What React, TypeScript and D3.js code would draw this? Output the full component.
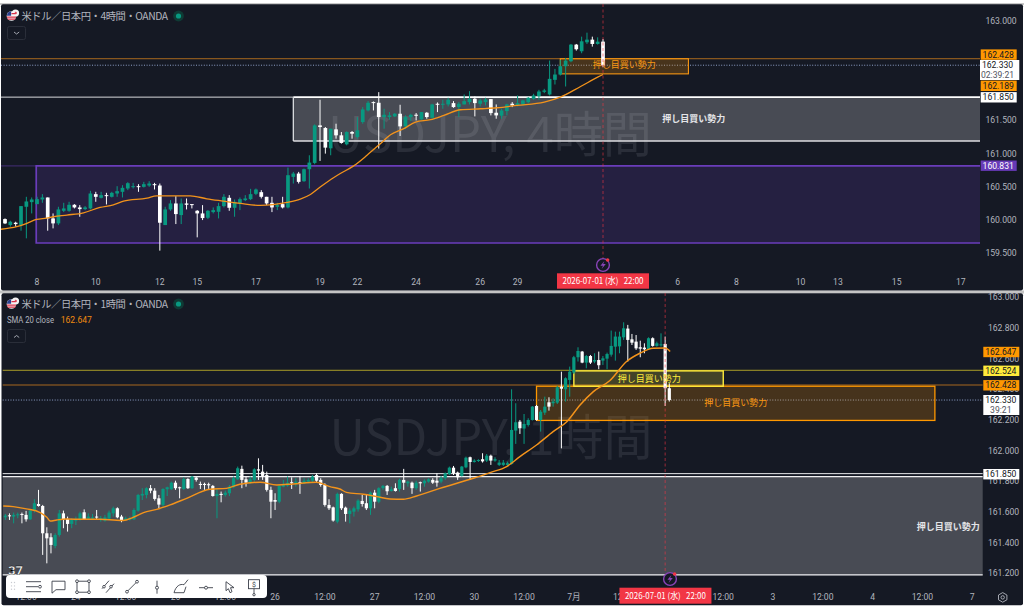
import React from "react";
import * as d3 from "d3";

type Candle = [number, number, number, number];

const candles4h: Candle[] = [
[160.015,160.025,159.94,159.95],[159.925,159.99,159.90,159.975],[159.96,159.975,159.90,159.94],[159.925,160.21,159.84,160.21],[160.20,160.35,159.725,160.28],[160.27,160.34,160.10,160.31],[160.24,160.35,160.24,160.315],[160.31,160.39,160.26,160.34],[160.34,160.34,159.84,160.025],[160.025,160.10,159.875,159.95],
[159.95,160.20,159.925,160.16],[160.14,160.26,160.12,160.175],[160.14,160.275,160.125,160.23],[160.23,160.24,160.175,160.19],[160.19,160.225,160.05,160.165],[160.165,160.21,160.15,160.19],[160.175,160.44,160.16,160.40],[160.39,160.425,160.275,160.35],[160.335,160.425,160.325,160.375],[160.375,160.41,160.235,160.365],
[160.35,160.425,160.34,160.41],[160.40,160.51,160.35,160.435],[160.425,160.525,160.34,160.485],[160.475,160.57,160.45,160.555],[160.50,160.56,160.475,160.51],[160.51,160.54,160.425,160.50],[160.50,160.575,160.49,160.54],[160.52,160.585,160.50,160.55],[160.54,160.56,160.46,160.53],[160.52,160.55,159.54,159.96],
[159.925,160.20,159.925,160.16],[160.16,160.30,160.14,160.25],[160.25,160.36,159.94,160.09],[160.075,160.325,159.94,160.25],[160.25,160.325,160.16,160.23],[160.24,160.24,160.175,160.225],[160.14,160.15,159.74,160.10],[160.10,160.225,160.00,160.03],[160.035,160.15,160.015,160.14],[160.12,160.19,160.10,160.15],
[160.125,160.26,160.025,160.21],[160.21,160.39,160.19,160.35],[160.335,160.375,160.14,160.185],[160.185,160.31,160.05,160.275],[160.25,160.34,160.15,160.315],[160.30,160.375,160.285,160.325],[160.315,160.47,160.30,160.39],[160.395,160.475,160.375,160.46],[160.42,160.45,160.325,160.35],[160.35,160.35,160.225,160.25],
[160.26,160.35,160.12,160.19],[160.20,160.26,160.15,160.225],[160.24,160.35,160.175,160.19],[160.19,160.79,160.175,160.675],[160.65,160.725,160.55,160.70],[160.70,160.725,160.55,160.575],[160.585,160.775,160.575,160.765],[160.765,160.975,160.475,160.865],[160.86,161.44,160.84,161.425],[161.425,161.81,160.89,161.40],
[161.385,161.40,161.00,161.09],[161.08,161.375,160.975,161.375],[161.365,161.45,161.225,161.275],[161.275,161.325,161.15,161.16],[161.14,161.335,161.125,161.325],[161.325,161.34,161.225,161.30],[161.25,161.55,161.225,161.35],[161.475,161.70,161.45,161.665],[161.65,161.79,161.635,161.765],[161.775,161.785,161.65,161.765],
[161.765,161.925,161.075,161.55],[161.55,161.675,161.375,161.585],[161.55,161.625,161.51,161.575],[161.56,161.61,161.55,161.60],[161.60,161.735,161.265,161.41],[161.41,161.575,161.375,161.55],[161.55,161.60,161.49,161.585],[161.585,161.61,161.50,161.57],[161.515,161.625,161.51,161.625],[161.615,161.625,161.525,161.55],
[161.54,161.75,161.53,161.74],[161.75,161.77,161.625,161.74],[161.74,161.81,161.675,161.75],[161.74,161.84,161.71,161.81],[161.76,161.79,161.69,161.70],[161.70,161.775,161.55,161.75],[161.74,161.89,161.74,161.79],[161.775,161.94,161.74,161.825],[161.825,161.86,161.56,161.76],[161.75,161.825,161.71,161.80],
[161.775,161.84,161.725,161.815],[161.82,161.82,161.575,161.61],[161.615,161.74,161.525,161.575],[161.57,161.675,161.525,161.65],[161.64,161.75,161.575,161.74],[161.75,161.775,161.70,161.725],[161.73,161.875,161.71,161.76],[161.74,161.81,161.725,161.80],[161.775,161.85,161.76,161.84],[161.825,161.90,161.81,161.875],
[161.865,161.96,161.81,161.935],[161.93,161.975,161.91,161.95],[161.89,162.40,161.875,162.125],[162.11,162.275,162.04,162.19],[162.19,162.41,162.175,162.315],[162.315,162.44,162.01,162.40],[162.39,162.65,162.375,162.64],[162.64,162.65,162.55,162.57],[162.54,162.76,162.51,162.69],[162.675,162.82,162.65,162.715],
[162.715,162.76,162.61,162.65],[162.65,162.75,162.64,162.685],[162.685,162.725,162.30,162.33],
];

const sma4h: [number, number][] = [
[-0.94,159.86],[2.2,159.90],[4.1,159.95],[5.9,160.01],[7.8,160.03],[9.1,160.05],[11.6,160.075],[14.7,160.11],[17.8,160.19],[20.3,160.23],[22.2,160.285],[26.6,160.33],[28.4,160.365],[34.7,160.365],[37.8,160.32],[40.9,160.285],[44.1,160.25],[47.8,160.22],[52.8,160.265],[55.3,160.315],[57.2,160.385],[59.1,160.50],[61.6,160.64],[62.8,160.70],[65.3,160.815],[67.8,160.975],[70.3,161.15],[72.2,161.285],[74.7,161.375],[76.9,161.475],[79.7,161.51],[82.2,161.575],[85.3,161.66],[89.1,161.675],[92.2,161.69],[95.9,161.725],[101,161.775],[104,161.85],[107.8,162.01],[111,162.15],[112,162.19],
];

const candles1h: Candle[] = [
[161.565,161.587,161.548,161.576],[161.578,161.591,161.548,161.572],[161.570,161.596,161.526,161.581],[161.578,161.596,161.559,161.585],[161.587,161.596,161.526,161.581],[161.581,161.607,161.537,161.552],[161.552,161.613,161.548,161.609],[161.607,161.683,161.596,161.657],[161.652,161.744,161.635,161.639],[161.639,161.646,161.320,161.461],
[161.461,161.500,161.265,161.428],[161.435,161.461,161.330,161.385],[161.378,161.461,161.363,161.450],[161.450,161.613,161.439,161.591],[161.591,161.609,161.494,161.552],[161.554,161.570,161.472,161.522],[161.522,161.559,161.494,161.548],[161.544,161.570,161.515,161.554],[161.548,161.602,161.544,161.591],[161.598,161.617,161.548,161.554],
[161.557,161.591,161.548,161.570],[161.557,161.587,161.548,161.565],[161.570,161.613,161.552,161.565],[161.548,161.574,161.537,161.559],[161.544,161.581,161.537,161.565],[161.557,161.609,161.548,161.596],[161.591,161.635,161.570,161.624],[161.624,161.630,161.559,161.565],[161.570,161.581,161.533,161.544],[161.548,161.570,161.544,161.559],
[161.550,161.570,161.544,161.561],[161.552,161.624,161.548,161.613],[161.609,161.718,161.602,161.711],[161.707,161.755,161.678,161.718],[161.711,161.761,161.689,161.755],[161.755,161.776,161.722,161.739],[161.739,161.755,161.674,161.685],[161.689,161.711,161.624,161.648],[161.646,161.755,161.635,161.750],[161.748,161.765,161.704,161.761],
[161.748,161.798,161.744,161.791],[161.791,161.804,161.744,161.755],[161.761,161.765,161.689,161.755],[161.750,161.826,161.744,161.815],[161.815,161.820,161.750,161.755],[161.755,161.835,161.750,161.831],[161.824,161.831,161.798,161.809],[161.783,161.798,161.750,161.776],[161.783,161.791,161.744,161.776],[161.781,161.791,161.750,161.774],
[161.770,161.776,161.700,161.704],[161.704,161.755,161.559,161.718],[161.718,161.733,161.663,161.711],[161.711,161.739,161.700,161.726],[161.722,161.776,161.704,161.765],[161.761,161.831,161.755,161.820],[161.813,161.896,161.809,161.885],[161.881,161.902,161.755,161.809],[161.813,161.831,161.765,161.791],[161.791,161.831,161.783,161.813],
[161.809,161.885,161.798,161.878],[161.878,161.950,161.809,161.870],[161.863,161.907,161.809,161.835],[161.841,161.863,161.733,161.744],[161.744,161.765,161.559,161.667],[161.678,161.722,161.613,161.667],[161.667,161.776,161.657,161.770],[161.765,161.809,161.761,161.781],[161.772,161.831,161.765,161.791],[161.794,161.826,161.750,161.787],
[161.787,161.820,161.765,161.798],[161.794,161.835,161.718,161.783],[161.787,161.820,161.783,161.804],[161.798,161.820,161.787,161.809],[161.804,161.841,161.791,161.831],[161.841,161.852,161.791,161.804],[161.809,161.820,161.765,161.776],[161.776,161.787,161.635,161.646],[161.646,161.683,161.613,161.624],[161.630,161.635,161.537,161.544],
[161.537,161.726,161.526,161.718],[161.718,161.722,161.613,161.624],[161.628,161.635,161.537,161.587],[161.587,161.624,161.526,161.609],[161.602,161.635,161.570,161.624],[161.617,161.683,161.602,161.674],[161.672,161.711,161.635,161.652],[161.657,161.711,161.613,161.624],[161.624,161.733,161.581,161.726],[161.726,161.744,161.624,161.667],
[161.667,161.761,161.657,161.755],[161.755,161.776,161.744,161.770],[161.770,161.776,161.711,161.735],[161.737,161.765,161.733,161.748],[161.755,161.787,161.733,161.737],[161.750,161.817,161.733,161.809],[161.809,161.881,161.744,161.791],[161.787,161.804,161.765,161.798],[161.791,161.798,161.718,161.755],[161.755,161.804,161.744,161.791],
[161.794,161.798,161.733,161.787],[161.787,161.813,161.765,161.804],[161.798,161.820,161.791,161.813],[161.809,161.820,161.783,161.791],[161.804,161.852,161.765,161.791],[161.798,161.835,161.787,161.820],[161.820,161.857,161.809,161.852],[161.848,161.896,161.841,161.889],[161.889,161.900,161.841,161.852],[161.857,161.863,161.809,161.826],
[161.835,161.900,161.831,161.896],[161.891,161.961,161.885,161.954],[161.957,161.961,161.809,161.926],[161.926,161.944,161.922,161.935],[161.933,161.944,161.926,161.939],[161.944,161.983,161.922,161.930],[161.935,161.978,161.926,161.967],[161.967,161.974,161.907,161.935],[161.935,161.957,161.928,161.944],[161.907,161.939,161.900,161.922],
[161.907,161.939,161.900,161.922],[161.907,161.928,161.900,161.918],[161.913,162.400,161.909,162.135],[162.131,162.309,162.044,162.185],[162.189,162.200,162.109,162.146],[162.144,162.239,162.044,162.174],[162.167,162.211,162.157,162.200],[162.200,162.291,162.196,162.287],[162.291,162.298,162.196,162.200],[162.200,162.265,162.124,162.254],
[162.248,162.352,162.233,162.287],[162.315,162.348,162.261,162.287],[162.309,162.341,162.287,162.320],[162.313,162.422,162.304,162.413],[162.417,162.515,162.015,162.404],[162.400,162.478,162.320,162.472],[162.461,162.548,162.352,162.515],[162.509,162.618,162.500,162.609],[162.609,162.674,162.581,162.650],[162.646,162.650,162.570,162.574],
[162.574,162.624,162.537,162.617],[162.617,162.624,162.565,162.574],[162.581,162.635,162.570,162.591],[162.591,162.646,162.531,162.557],[162.587,162.617,162.559,162.602],[162.600,162.639,162.531,162.630],[162.626,162.783,162.613,162.683],[162.678,162.776,162.587,162.744],[162.680,162.776,162.635,162.744],[162.739,162.837,162.722,162.798],
[162.796,162.820,162.581,162.722],[162.726,162.761,162.689,162.704],[162.711,162.754,162.657,162.667],[162.674,162.717,162.609,162.665],[162.672,162.700,162.635,162.661],[162.661,162.739,162.657,162.733],[162.733,162.739,162.678,162.683],[162.683,162.711,162.678,162.700],[162.687,162.765,162.678,162.693],[162.696,162.744,162.291,162.407],
[162.407,162.439,162.320,162.330],
];

const sma1h: [number, number][] = [
[-0.5,161.639],[1.9,161.635],[5.1,161.620],[8.4,161.596],[10,161.565],[10.8,161.541],[12.4,161.548],[14.8,161.554],[18.8,161.552],[22.8,161.552],[26,161.548],[28.4,161.544],[30.8,161.565],[33.3,161.596],[36.5,161.617],[39.7,161.646],[43.7,161.689],[49.3,161.748],[53.3,161.754],[56.5,161.781],[61.4,161.794],[65.4,161.776],[69.4,161.783],[75,161.794],[78.2,161.765],[80.6,161.750],[82.2,161.728],[86.3,161.715],[89.5,161.700],[92.7,161.685],[95.9,161.683],[99.1,161.704],[104.7,161.754],[112.8,161.820],[116.8,161.857],[120.8,161.896],[124,161.961],[128,162.037],[132,162.124],[135.3,162.189],[138.5,162.298],[141.7,162.385],[145.7,162.457],[149.7,162.581],[152.9,162.635],[156.1,162.668],[159,162.670],[160.2,162.647],
];

const ticks4h: [number, string][] = [[6,"8"],[17,"10"],[29,"12"],[36,"15"],[47,"17"],[59,"19"],[66,"22"],[77,"24"],[89,"26"],[96,"29"],[126,"6"],[137,"8"],[149,"10"],[156,"13"],[167,"15"],[179,"17"]];
const ticks1h: [number, string][] = [[5,"12:00"],[17,"24"],[29,"12:00"],[41,"25"],[53,"12:00"],[65,"26"],[77,"12:00"],[89,"27"],[101,"12:00"],[113,"30"],[125,"12:00"],[137,"7月"],[149,"12:00"],[173,"12:00"],[185,"3"],[197,"12:00"],[209,"4"],[221,"12:00"],[233,"7"]];
const prices4h = [163, 161.5, 161, 160.5, 160, 159.5];
const prices1h = [163, 162.8, 162.6, 162.4, 162.2, 162, 161.8, 161.6, 161.4, 161.2];
const ZONE_LABEL = "押し目買い勢力";
const DATE_LABEL = "2026-07-01 (水)   22:00";

const UI = "Roboto, 'Noto Sans CJK JP', sans-serif";
const JP = "'Noto Sans CJK JP', Roboto, sans-serif";
const BG = "#151924";
const GREEN = "#089981";
const ORANGE = "#ff9800";
const YELLOW = "#ffeb3b";
const PURPLE = "#673ab7";
const AXIS = "#b2b5be";
const RED = "#f23645";

const x4 = d3.scaleLinear().domain([0, 112]).range([5, 603]);
const y4 = d3.scaleLinear().domain([163, 159.5]).range([20.7, 253.3]);
const x1 = d3.scaleLinear().domain([0, 160]).range([5.33, 669.3]);
const y1 = d3.scaleLinear().domain([163, 161.2]).range([297.3, 573.3]);

type Scale = d3.ScaleLinear<number, number>;

function Candles({ data, x, y, w }: { data: Candle[]; x: Scale; y: Scale; w: number }) {
  return (
    <g>
      {data.map(([o, h, l, c], i) => {
        const col = c >= o ? GREEN : "#ffffff";
        const top = y(Math.max(o, c));
        const bh = Math.max(1, y(Math.min(o, c)) - top);
        return (
          <g key={i}>
            <line x1={x(i)} x2={x(i)} y1={y(h)} y2={y(l)} stroke={col} strokeWidth={1} />
            <rect x={x(i) - w / 2} y={top} width={w} height={bh} fill={col} />
          </g>
        );
      })}
    </g>
  );
}

function Sma({ data, x, y, width, clip }: { data: [number, number][]; x: Scale; y: Scale; width: number; clip: string }) {
  const d = d3.line<[number, number]>().x((p) => x(p[0])).y((p) => y(p[1])).curve(d3.curveMonotoneX)(data) || "";
  return <path d={d} fill="none" stroke="#f3931b" strokeWidth={width} clipPath={clip} />;
}

function Tag({ cy, h = 10.4, x, w, bg, fg, label, sub }: { cy: number; h?: number; x: number; w: number; bg: string; fg: string; label: string; sub?: string }) {
  return (
    <g fontFamily={UI} fontSize={8.6} textAnchor="middle">
      <rect x={x} y={cy - h / 2} width={w} height={h} fill={bg} />
      <text x={x + 17.5} y={cy - (sub ? 4.8 : 0)} dy="0.35em" fill={fg}>{label}</text>
      {sub && <text x={x + 17.5} y={cy + 4.8} dy="0.35em" fill="#50535e">{sub}</text>}
    </g>
  );
}

function Flag({ cx, cy }: { cx: number; cy: number }) {
  return (
    <g>
      <circle cx={cx + 4} cy={cy - 3} r={3.6} fill="#f4f4f4" />
      <circle cx={cx + 4} cy={cy - 3} r={1.3} fill="#e0354b" />
      <circle cx={cx} cy={cy} r={4.8} fill="#f6f6f6" />
      <path d={`M${cx - 4.6} ${cy + 1.2}h9.2M${cx - 3.8} ${cy + 3.2}h7.6M${cx} ${cy - 2.4}h4.4`} stroke="#d9324a" strokeWidth={1.3} />
      <path d={`M${cx - 4.6} ${cy - 0.2}A4.8 4.8 0 0 1 ${cx - 0.4} ${cy - 4.7}V${cy - 0.2}Z`} fill="#2a3f8f" />
    </g>
  );
}

function Header({ y, tf }: { y: number; tf: string }) {
  return (
    <g>
      <Flag cx={11.5} cy={y} />
      <text x={21.5} y={y} dy="0.36em" fontFamily={JP} fontSize={10.3} fill={AXIS} textLength={146.5} lengthAdjust="spacing">{`米ドル／日本円・${tf}・OANDA`}</text>
      <circle cx={178.5} cy={y} r={5.4} fill="#0f3b35" />
      <circle cx={178.5} cy={y} r={2.6} fill="#089981" />
    </g>
  );
}

function Bolt({ cx, cy }: { cx: number; cy: number }) {
  return (
    <g>
      <circle cx={cx} cy={cy} r={6.4} fill={BG} stroke="#8a44b8" strokeWidth={1.4} />
      <path d={`M${cx + 1.4} ${cy - 4}L${cx - 2.6} ${cy + 0.8}H${cx}L${cx - 1.4} ${cy + 4}L${cx + 2.8} ${cy - 1}H${cx + 0.2}Z`} fill="#8a44b8" />
      <circle cx={cx + 4.6} cy={cy - 5} r={1.8} fill="#f23645" />
    </g>
  );
}

function Toolbar() {
  const cy = 586.7;
  const s = { fill: "none", stroke: "#3b3f4a", strokeWidth: 0.9 } as const;
  return (
    <g>
      <rect x={6} y={575} width={261} height={23} rx={4} fill="#ffffff" />
      {[0, 1, 2].map((r) => [0, 1].map((c) => <circle key={`${r}${c}`} cx={11.5 + c * 3} cy={582.5 + r * 3.4} r={0.7} fill="#c9cbd1" />))}
      <path d={`M26 ${cy - 5}H41M26 ${cy}H38M26 ${cy + 5}H41`} {...s} />
      <circle cx={40} cy={cy} r={1.4} {...s} />
      <path d={`M52 ${cy - 5.5}H65V${cy + 3}H56L52 ${cy + 6.5}Z`} {...s} />
      <rect x={77} y={cy - 5.5} width={12} height={11} {...s} />
      {[[77, -5.5], [89, -5.5], [77, 5.5], [89, 5.5]].map(([a, b], i) => <circle key={i} cx={a} cy={cy + b} r={1.4} fill="#fff" stroke="#3b3f4a" strokeWidth={0.9} />)}
      <path d={`M102 ${cy + 2}L109 ${cy - 6}M106 ${cy + 6}L114 ${cy - 3}`} {...s} />
      <circle cx={104} cy={cy} r={1.3} fill="#fff" stroke="#3b3f4a" strokeWidth={0.9} />
      <circle cx={111} cy={cy} r={1.3} fill="#fff" stroke="#3b3f4a" strokeWidth={0.9} />
      <path d={`M127 ${cy + 5}L137 ${cy - 5}`} {...s} />
      <circle cx={127} cy={cy + 5} r={1.4} fill="#fff" stroke="#3b3f4a" strokeWidth={0.9} />
      <circle cx={137} cy={cy - 5} r={1.4} fill="#fff" stroke="#3b3f4a" strokeWidth={0.9} />
      <path d={`M157 ${cy - 6}V${cy + 7}`} {...s} />
      <circle cx={157} cy={cy + 1} r={1.5} fill="#fff" stroke="#3b3f4a" strokeWidth={0.9} />
      <path d={`M174 ${cy + 6}C176 ${cy - 1} 180 ${cy - 3} 184 ${cy - 2}L188 ${cy - 7}M174 ${cy + 6}H184L186 ${cy}`} {...s} />
      <path d={`M199 ${cy + 1}H213`} {...s} />
      <circle cx={206} cy={cy + 1} r={1.5} fill="#fff" stroke="#3b3f4a" strokeWidth={0.9} />
      <path d={`M226 ${cy - 5}L234 ${cy + 1}H230.5L232 ${cy + 5}L230 ${cy + 6}L228.4 ${cy + 2}L226 ${cy + 4}Z`} {...s} />
      <rect x={248.5} y={cy - 7} width={11} height={9} {...s} />
      <text x={254} y={cy - 2.4} dy="0.35em" textAnchor="middle" fontSize={7} fontFamily={UI} fill="#3b3f4a">$</text>
      <path d={`M254 ${cy + 2}V${cy + 8}`} {...s} />
      <circle cx={254} cy={cy + 8} r={1.2} fill="#fff" stroke="#3b3f4a" strokeWidth={0.9} />
    </g>
  );
}

export default function App() {
  const plotR4 = 980;
  const plotR1 = 982.7;
  return (
    <svg width={1024} height={608} style={{ position: "fixed", left: 0, top: 0, background: "#fff" }}>
      <defs>
        <clipPath id="pane4"><rect x={1} y={4} width={plotR4 - 1} height={286} /></clipPath>
        <clipPath id="pane1"><rect x={2.7} y={293} width={plotR1 - 2.7} height={312} /></clipPath>
      </defs>
      <rect x={0} y={0} width={1024} height={608} fill="#ffffff" />
      <rect x={0} y={3} width={1024} height={2} fill="#c9c9c9" />
      <rect x={0} y={290.5} width={1024} height={3} fill="#c4c4c4" />
      <rect x={1} y={4.3} width={1022} height={286.3} rx={2} fill={BG} />
      <rect x={1.5} y={293.3} width={1021.5} height={311.9} rx={2} fill={BG} />

      {/* Top pane */}
      <text x={490} y={135} dy="0.35em" textAnchor="middle" fontFamily={JP} fontSize={49} fill="#2a2e39" textLength={324} lengthAdjust="spacingAndGlyphs">USDJPY, 4時間</text>
      <rect x={1} y={y4(162.428) - 0.5} width={plotR4 - 1} height={1} fill="#a8681e" />
      <line x1={1} x2={plotR4} y1={y4(162.33)} y2={y4(162.33)} stroke="#8ea0c8" strokeWidth={1} strokeDasharray="1 1.6" />
      <line x1={1} x2={x4(54)} y1={y4(161.85)} y2={y4(161.85)} stroke="#d8d9dc" strokeWidth={1} />
      <rect x={x4(54)} y={y4(161.85)} width={plotR4 - x4(54)} height={y4(161.19) - y4(161.85)} fill="rgba(255,255,255,0.22)" />
      <line x1={x4(54)} x2={plotR4} y1={y4(161.85)} y2={y4(161.85)} stroke="#ffffff" strokeWidth={1.8} />
      <line x1={x4(54)} x2={plotR4} y1={y4(161.19)} y2={y4(161.19)} stroke="#dcdde0" strokeWidth={1.3} />
      <line x1={x4(54)} x2={x4(54)} y1={y4(161.85)} y2={y4(161.19)} stroke="#dcdde0" strokeWidth={1.3} />
      <line x1={1} x2={x4(5.85)} y1={y4(160.815)} y2={y4(160.815)} stroke="#59389c" strokeWidth={0.7} />
      <rect x={x4(5.85)} y={y4(160.815)} width={plotR4 - x4(5.85)} height={y4(159.655) - y4(160.815)} fill="rgba(103,58,183,0.2)" />
      <path d={`M${plotR4} ${y4(160.815)}H${x4(5.85)}V${y4(159.655)}H${plotR4}`} fill="none" stroke="#6a3dbb" strokeWidth={1.7} />

      <rect x={x4(104)} y={y4(162.428)} width={x4(128) - x4(104)} height={y4(162.2) - y4(162.428)} fill="rgba(255,152,0,0.22)" stroke="#f79612" strokeWidth={1.1} />
      <Candles data={candles4h} x={x4} y={y4} w={3.7} />
      <Sma data={sma4h} x={x4} y={y4} width={1.3} clip="url(#pane4)" />
      <text x={x4(116)} y={y4(162.33)} dy="0.36em" textAnchor="middle" fontFamily={JP} fontSize={9} fill="#f79612">{ZONE_LABEL}</text>
      <text x={x4(129)} y={y4(161.53)} dy="0.36em" textAnchor="middle" fontFamily={JP} fontSize={9} fontWeight={700} fill="#e4e5e8">{ZONE_LABEL}</text>

      <line x1={x4(112)} x2={x4(112)} y1={4} y2={258} stroke={RED} strokeWidth={0.8} strokeDasharray="3 2.5" opacity={0.75} />
      <Bolt cx={x4(112)} cy={265} />

      <Header y={16} tf="4時間" />
      <rect x={7.5} y={26.5} width={18} height={13} rx={2} fill="none" stroke="#2a2e39" />
      <path d="M14 32l2.6 2 2.6-2" fill="none" stroke={AXIS} strokeWidth={0.9} />

      <g fontFamily={UI} fontSize={8.6} fill={AXIS} textAnchor="middle">
        {ticks4h.map(([i, t], k) => <text key={k} x={x4(i)} y={282} dy="0.35em">{t}</text>)}
      </g>
      <g fontFamily={UI} fontSize={8.6} fill={AXIS} textAnchor="middle">
        {prices4h.map((p) => <text key={p} x={1001} y={y4(p)} dy="0.35em">{p.toFixed(3)}</text>)}
      </g>
      <Tag x={980.7} w={36} cy={54.6} bg={ORANGE} fg="#131722" label="162.428" />
      <Tag x={980} w={39.3} cy={70} h={20} bg="#ffffff" fg="#131722" label="162.330" sub="02:39:21" />
      <Tag x={980.7} w={36} cy={85.8} bg={ORANGE} fg="#131722" label="162.189" />
      <Tag x={980.7} w={36} cy={97.3} bg="#ffffff" fg="#131722" label="161.850" />
      <Tag x={980.7} w={36} cy={165.7} bg={PURPLE} fg="#ffffff" label="160.831" />
      <rect x={x4(112) - 46} y={273.3} width={92} height={15.4} fill={RED} />
      <text x={x4(112)} y={281} dy="0.36em" textAnchor="middle" fontFamily={JP} fontSize={8.6} fill="#fff" textLength={81} lengthAdjust="spacingAndGlyphs" style={{ whiteSpace: "pre" }}>{DATE_LABEL}</text>

      {/* Bottom pane */}
      <text x={491} y={438} dy="0.35em" textAnchor="middle" fontFamily={JP} fontSize={49} fill="#282c37" textLength={323} lengthAdjust="spacingAndGlyphs">USDJPY, 1時間</text>
      <line x1={2.7} x2={plotR1} y1={y1(162.524)} y2={y1(162.524)} stroke="#a99c28" strokeWidth={1} />
      <line x1={2.7} x2={plotR1} y1={y1(162.428)} y2={y1(162.428)} stroke="#a8681e" strokeWidth={1} />
      <line x1={2.7} x2={plotR1} y1={y1(162.33)} y2={y1(162.33)} stroke="#8ea0c8" strokeWidth={1} strokeDasharray="1 1.6" />
      <line x1={2.7} x2={plotR1} y1={y1(161.85)} y2={y1(161.85)} stroke="#e6e7ea" strokeWidth={1} />
      <rect x={2.7} y={y1(161.83)} width={plotR1 - 2.7} height={y1(161.19) - y1(161.83)} fill="rgba(255,255,255,0.22)" />
      <line x1={2.7} x2={plotR1} y1={y1(161.83)} y2={y1(161.83)} stroke="#f2f2f4" strokeWidth={1.2} />
      <line x1={2.7} x2={plotR1} y1={y1(161.19)} y2={y1(161.19)} stroke="#f2f2f4" strokeWidth={1.3} />

      <rect x={x1(128)} y={y1(162.42)} width={x1(224) - x1(128)} height={y1(162.197) - y1(162.42)} fill="rgba(255,152,0,0.21)" stroke={ORANGE} strokeWidth={1.3} />
      <rect x={x1(137)} y={y1(162.52)} width={x1(173) - x1(137)} height={y1(162.42) - y1(162.52)} fill="rgba(255,235,59,0.2)" stroke={YELLOW} strokeWidth={1.4} />
      <Candles data={candles1h} x={x1} y={y1} w={3.2} />
      <Sma data={sma1h} x={x1} y={y1} width={1.45} clip="url(#pane1)" />
      <text x={x1(155.2)} y={y1(162.47)} dy="0.36em" textAnchor="middle" fontFamily={JP} fontSize={9} fill={YELLOW}>{ZONE_LABEL}</text>
      <text x={x1(176)} y={y1(162.31)} dy="0.36em" textAnchor="middle" fontFamily={JP} fontSize={9} fill="#f79612">{ZONE_LABEL}</text>
      <text x={x1(227.2)} y={y1(161.505)} dy="0.36em" textAnchor="middle" fontFamily={JP} fontSize={9} fontWeight={700} fill="#e4e5e8">{ZONE_LABEL}</text>

      <line x1={x1(159)} x2={x1(159)} y1={293} y2={572} stroke={RED} strokeWidth={0.8} strokeDasharray="3 2.5" opacity={0.75} />
      <Bolt cx={670} cy={579} />

      <Header y={304} tf="1時間" />
      <text x={7} y={320} dy="0.35em" fontFamily={UI} fontSize={8.6} fill={AXIS} textLength={47} lengthAdjust="spacingAndGlyphs">SMA 20 close</text>
      <text x={60.7} y={320} dy="0.35em" fontFamily={UI} fontSize={8.6} fill="#f08a10">162.647</text>
      <rect x={7.5} y={329.5} width={18} height={13} rx={2} fill="none" stroke="#2a2e39" />
      <path d="M14 337.5l2.6-2 2.6 2" fill="none" stroke={AXIS} strokeWidth={0.9} />

      <g fontFamily={UI} fontSize={8.6} fill={AXIS} textAnchor="middle">
        {ticks1h.map(([i, t], k) => <text key={k} x={x1(i)} y={596.7} dy="0.35em">{t}</text>)}
      </g>
      <g fontFamily={UI} fontSize={8.6} fill={AXIS} textAnchor="middle">
        {prices1h.map((p) => <text key={p} x={1003.5} y={y1(p)} dy="0.35em">{p.toFixed(3)}</text>)}
      </g>
      <Tag x={983.3} w={36} cy={352} bg={ORANGE} fg="#131722" label="162.647" />
      <Tag x={983.3} w={36} cy={370.8} bg={YELLOW} fg="#131722" label="162.524" />
      <Tag x={983.3} w={36} cy={385.3} bg={ORANGE} fg="#131722" label="162.428" />
      <Tag x={983.3} w={36} cy={405} h={20} bg="#ffffff" fg="#131722" label="162.330" sub="39:21" />
      <Tag x={983.3} w={36} cy={474.2} bg="#ffffff" fg="#131722" label="161.850" />
      <rect x={x1(159) - 45.7} y={587.7} width={92} height={16} fill={RED} />
      <text x={x1(159) + 0.3} y={595.7} dy="0.36em" textAnchor="middle" fontFamily={JP} fontSize={8.6} fill="#fff" textLength={81} lengthAdjust="spacingAndGlyphs" style={{ whiteSpace: "pre" }}>{DATE_LABEL}</text>

      <path d="M1002.7 592.6l4.2 2.4v4.8l-4.2 2.4-4.2-2.4v-4.8z" fill="none" stroke={AXIS} strokeWidth={0.9} />
      <circle cx={1002.7} cy={597.4} r={1.7} fill="none" stroke={AXIS} strokeWidth={0.9} />

      <text x={8} y={575} fontFamily={UI} fontWeight={900} fontSize={13} fill="#f4f4f4" stroke="#000" strokeWidth={0.4}>37</text>
      <Toolbar />
    </svg>
  );
}
